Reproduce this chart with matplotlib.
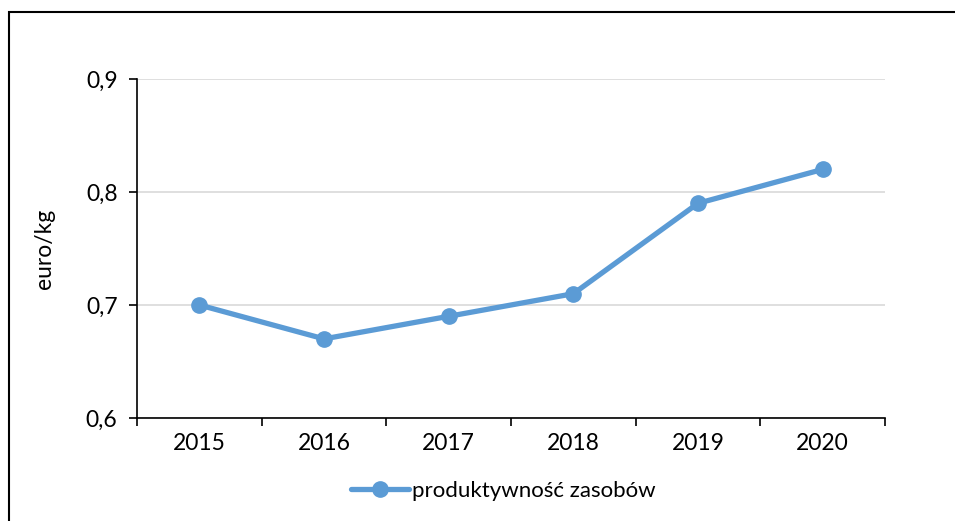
import matplotlib
matplotlib.use('Agg')
import matplotlib.pyplot as plt
from matplotlib.patches import Rectangle

years = ['2015', '2016', '2017', '2018', '2019', '2020']
values = [0.70, 0.67, 0.69, 0.71, 0.79, 0.82]
y_ticks = [0.6, 0.7, 0.8, 0.9]
y_tick_labels = ['0,6', '0,7', '0,8', '0,9']
series_name = 'produktywność zasobów'
color = '#5B9BD5'

plt.rcParams['font.family'] = ['Lato', 'DejaVu Sans']

fig = plt.figure(figsize=(9.55, 5.21), dpi=100)
ax = fig.add_axes([0.1435, 0.1977, 0.7832, 0.6507])

x = list(range(len(years)))
ax.plot(x, values, color=color, linewidth=3.8, marker='o', markersize=11,
        label=series_name, solid_capstyle='round', zorder=3)

ax.set_xlim(-0.5, len(years) - 0.5)
ax.set_ylim(0.6, 0.9)
ax.set_yticks(y_ticks)
ax.set_yticklabels(y_tick_labels, fontsize=16.5)

# category labels at centers, tick marks on category boundaries
ax.set_xticks(x)
ax.set_xticklabels(years, fontsize=16.5)
ax.tick_params(axis='x', which='major', length=0, pad=11)
ax.set_xticks([i - 0.5 for i in range(len(years) + 1)], minor=True)
ax.tick_params(axis='x', which='minor', length=6, width=1.2, direction='out')
ax.tick_params(axis='y', length=6, width=1.2, direction='out', pad=8)

ax.grid(axis='y', color='#d9d9d9', linewidth=1.2, zorder=0)
ax.set_axisbelow(True)
for side in ['top', 'right']:
    ax.spines[side].set_visible(False)
ax.spines['left'].set_linewidth(1.2)
ax.spines['bottom'].set_linewidth(1.2)

ax.set_ylabel('euro/kg', fontsize=16.5, labelpad=22)

ax.legend(loc='center', bbox_to_anchor=(0.49, -0.215), frameon=False,
          fontsize=16, handlelength=2.6, handletextpad=0.15)

# outer chart frame
fig.patches.append(Rectangle((9 / 955, -0.1), 1.2, 1 - 12 / 521 + 0.1,
                             transform=fig.transFigure, fill=False,
                             edgecolor='black', linewidth=1.5))

fig.savefig('out.png', dpi=100)
